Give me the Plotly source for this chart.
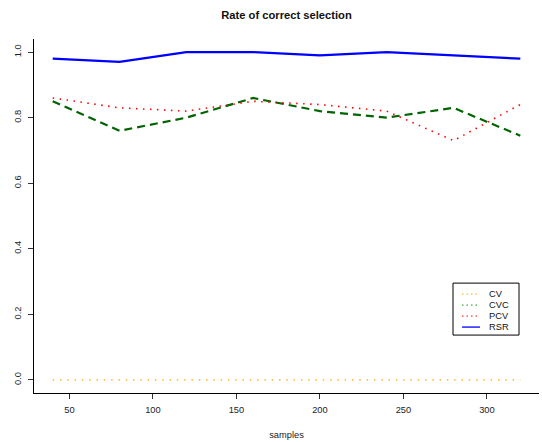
import plotly.graph_objects as go

samples = [40, 80, 120, 160, 200, 240, 280, 320]
cv = [0, 0, 0, 0, 0, 0, 0, 0]
cvc = [0.85, 0.76, 0.80, 0.86, 0.82, 0.80, 0.83, 0.745]
pcv = [0.86, 0.83, 0.82, 0.85, 0.84, 0.82, 0.73, 0.84]
rsr = [0.98, 0.97, 1.00, 1.00, 0.99, 1.00, 0.99, 0.98]
x_ticks = [50, 100, 150, 200, 250, 300]
y_ticks = [0.0, 0.2, 0.4, 0.6, 0.8, 1.0]
y_tick_labels = ["0.0", "0.2", "0.4", "0.6", "0.8", "1.0"]
legend_names = ["CV", "CVC", "PCV", "RSR"]

FONT = "Liberation Sans, Arial, sans-serif"

fig = go.Figure()
fig.add_trace(go.Scatter(x=samples, y=cv, mode="lines", name="CV",
                         line=dict(color="#FFA500", width=1.2, dash="1.5px,5.8px")))
fig.add_trace(go.Scatter(x=samples, y=cvc, mode="lines", name="CVC",
                         line=dict(color="#006400", width=2.2, dash="8px,5px")))
fig.add_trace(go.Scatter(x=samples, y=pcv, mode="lines", name="PCV",
                         line=dict(color="#FF0000", width=1.6, dash="1.5px,5.5px")))
fig.add_trace(go.Scatter(x=samples, y=rsr, mode="lines", name="RSR",
                         line=dict(color="#0000FF", width=2.2)))

W, H = 542, 442
ml, mr, mt, mb = 34, 3, 38.6, 49

fig.update_layout(
    width=W, height=H,
    margin=dict(l=ml, r=mr, t=mt, b=mb),
    paper_bgcolor="white", plot_bgcolor="white",
    showlegend=False,
    font=dict(family=FONT, size=9.3, color="#222222"),
    title=dict(text="<b>Rate of correct selection</b>", x=0.5286, xanchor="center",
               y=1 - 15 / H, yanchor="middle", yref="container",
               font=dict(family=FONT, size=11.2, color="#111111")),
    xaxis=dict(range=[28.8, 331.2], tickvals=x_ticks, ticks="outside", ticklen=5,
               tickwidth=1, tickcolor="#333333", showline=True, linecolor="black",
               linewidth=1.2, mirror=False, showgrid=False, zeroline=False,
               ticklabelstandoff=3,
               title=dict(text="samples", standoff=17, font=dict(size=9.3))),
    yaxis=dict(range=[-0.04, 1.04], tickvals=y_ticks, ticktext=y_tick_labels,
               tickangle=-90, ticks="outside", ticklen=5, tickwidth=1,
               ticklabelstandoff=3,
               tickcolor="#333333", showline=True, linecolor="black", linewidth=1.2,
               mirror=False, showgrid=False, zeroline=False),
)

# manual legend (R-style compact box)
lx0, lx1, ly0, ly1 = 453, 519, 283, 335
pw = W - ml - mr
ph = H - mt - mb
fig.add_shape(type="rect", xref="paper", yref="paper",
              x0=(lx0 - ml) / pw, x1=(lx1 - ml) / pw,
              y0=(H - mb - ly1) / ph, y1=(H - mb - ly0) / ph,
              line=dict(color="black", width=1), fillcolor="white")
leg_styles = [
    dict(color="#FFA500", width=1.0, dash="1.5px,3px"),
    dict(color="#00A000", width=1.0, dash="1.5px,3px"),
    dict(color="#FF0000", width=1.0, dash="1.5px,3px"),
    dict(color="#0000FF", width=1.3, dash="solid"),
]
leg_y = [294, 305, 316, 327]
for name, st, yy in zip(legend_names, leg_styles, leg_y):
    yp = (H - mb - yy) / ph
    fig.add_shape(type="line", xref="paper", yref="paper",
                  x0=(462 - ml) / pw, x1=(480 - ml) / pw,
                  y0=yp, y1=yp, line=st)
    fig.add_annotation(xref="paper", yref="paper", x=(487 - ml) / pw, y=yp,
                       text=name, showarrow=False, xanchor="left", yanchor="middle",
                       font=dict(family=FONT, size=9.3, color="#111111"))

fig.write_html("out.html")
